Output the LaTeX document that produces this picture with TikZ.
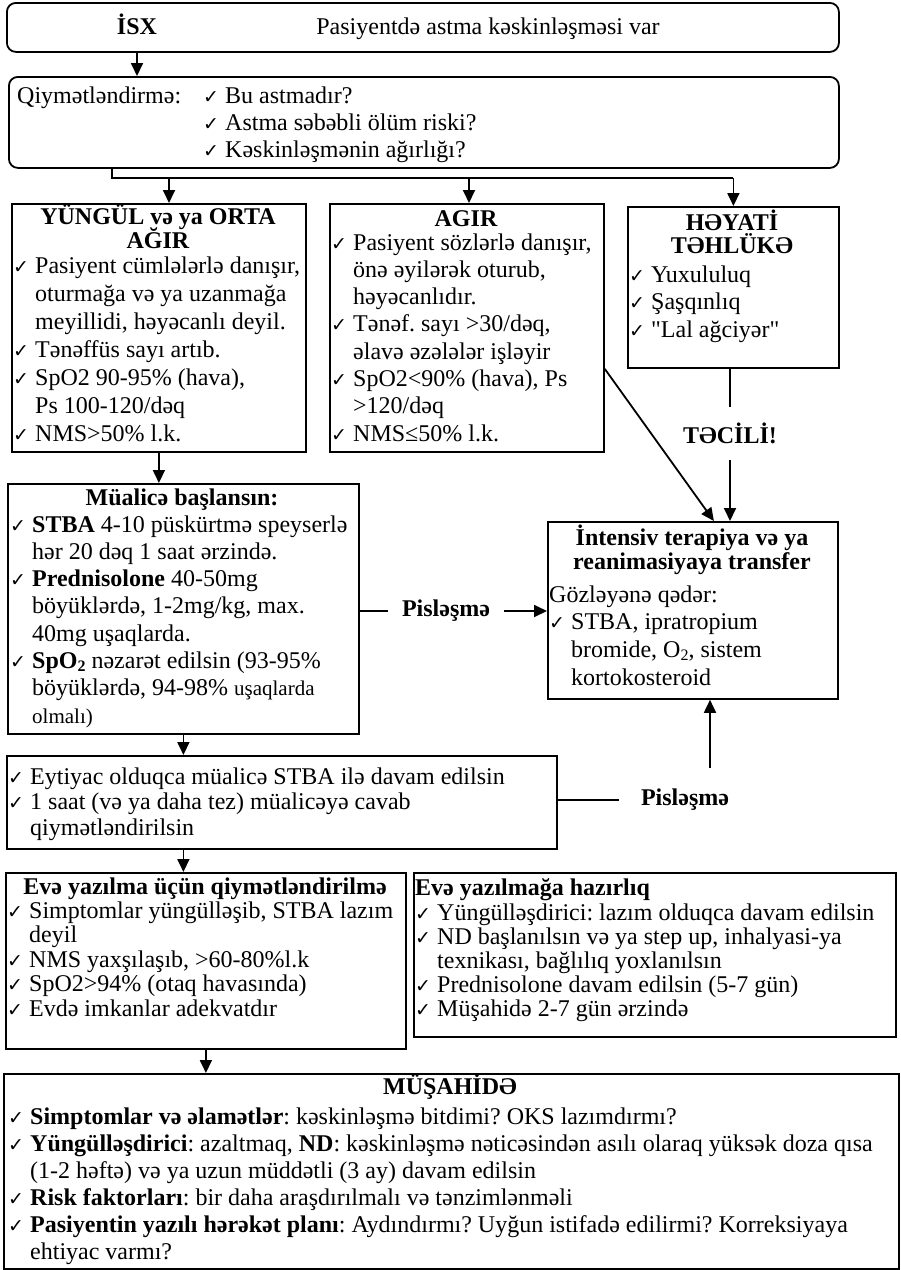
\documentclass[tikz,border=0pt]{standalone}
\usepackage{fontspec}
\setmainfont{Liberation Serif}
\newfontfamily\checkfont{DejaVu Sans}
\usetikzlibrary{arrows.meta}

\newcommand{\chk}{\makebox[22pt][l]{\checkfont\fontsize{19}{19}\selectfont ✓}}
\newcommand{\ind}{\hspace*{22pt}}
\newcommand{\bodyfont}[1]{\fontsize{24}{#1}\selectfont\frenchspacing}
\newcommand{\subtwo}{\raisebox{-3pt}{\fontsize{16}{16}\selectfont 2}}

\begin{document}
\begin{tikzpicture}[x=1pt,y=-1pt]
  \tikzstyle{frame}=[draw,line width=1.8pt,anchor=north west,inner sep=0pt]
  \tikzstyle{rframe}=[frame,rounded corners=9pt]
  \tikzstyle{head}=[inner sep=0pt,anchor=base,font=\bodyfont{27}\bfseries]
  \tikzstyle{plain}=[inner sep=0pt,anchor=base,font=\bodyfont{27}]
  \tikzstyle{list}=[inner sep=0pt,anchor=base west]
  \tikzstyle{conn}=[draw,line width=1.8pt]
  \tikzstyle{arr}=[conn,-{Triangle[length=13pt,width=12pt]}]
  \useasboundingbox (0,0) rectangle (901,1270);

  % boxes
  \node[rframe,minimum width=832pt,minimum height=49pt] (isx) at (6,2) {};
  \node[rframe,minimum width=830pt,minimum height=91pt] (assess) at (8,76) {};
  \node[frame,minimum width=294pt,minimum height=248pt] (mild) at (11,203) {};
  \node[frame,minimum width=274pt,minimum height=248pt] (severe) at (329,203) {};
  \node[frame,minimum width=211pt,minimum height=161pt] (life) at (627,206) {};
  \node[frame,minimum width=290pt,minimum height=177pt] (intensive) at (547,521) {};
  \node[frame,minimum width=351pt,minimum height=250pt] (treat) at (7,483) {};
  \node[frame,minimum width=550pt,minimum height=93pt] (cont) at (6,755) {};
  \node[frame,minimum width=400pt,minimum height=176pt] (discharge) at (5,872) {};
  \node[frame,minimum width=482pt,minimum height=164pt] (prep) at (413,872) {};
  \node[frame,minimum width=895pt,minimum height=195pt] (follow) at (3,1073) {};

  % top
  \node[head] (isxhead) at (137,34) {İSX};
  \node[plain] (isxtext) at (488,34) {Pasiyentdə astma kəskinləşməsi var};
  \node[plain,anchor=base west] (assesshead) at (17,103) {Qiymətləndirmə:};
  \node[list,font=\bodyfont{27}] (assesslist) at (203,103) {\parbox[t]{500pt}{\raggedright
    \chk Bu astmadır?\\
    \chk Astma səbəbli ölüm riski?\\
    \chk Kəskinləşmənin ağırlığı?}};

  % severity
  \node[head] (mildhead) at (158,224) {\parbox[t]{290pt}{\centering YÜNGÜL və ya ORTA\\[-3pt]AĞIR}};
  \node[list,font=\bodyfont{28}] (mildlist) at (13,273) {\parbox[t]{290pt}{\raggedright
    \chk Pasiyent cümlələrlə danışır,\\
    \ind oturmağa və ya uzanmağa\\
    \ind meyillidi, həyəcanlı deyil.\\
    \chk Tənəffüs sayı artıb.\\
    \chk SpO2 90-95\% (hava),\\
    \ind Ps 100-120/dəq\\
    \chk NMS>50\% l.k.}};

  \node[head] (severehead) at (466,226) {AGIR};
  \node[list,font=\bodyfont{27.3}] (severelist) at (331,250) {\parbox[t]{270pt}{\raggedright
    \chk Pasiyent sözlərlə danışır,\\
    \ind önə əyilərək oturub,\\
    \ind həyəcanlıdır.\\
    \chk Tənəf. sayı >30/dəq,\\
    \ind əlavə əzələlər işləyir\\
    \chk SpO2<90\% (hava), Ps\\
    \ind >120/dəq\\
    \chk NMS≤50\% l.k.}};

  \node[head] (lifehead) at (732,230) {\parbox[t]{205pt}{\centering HƏYATİ\\[-3.5pt]TƏHLÜKƏ}};
  \node[list,font=\bodyfont{27.5}] (lifelist) at (629,282) {\parbox[t]{205pt}{\raggedright
    \chk Yuxululuq\\
    \chk Şaşqınlıq\\
    \chk \textquotedbl Lal ağciyər\textquotedbl}};

  % intensive care
  \node[head] (intensivehead) at (692,545) {\parbox[t]{286pt}{\centering İntensiv terapiya və ya\\[-2.5pt]reanimasiyaya transfer}};
  \node[list,font=\bodyfont{27.7}] (intensivelist) at (549,602) {\parbox[t]{286pt}{\raggedright
    Gözləyənə qədər:\\
    \chk STBA, ipratropium\\
    \ind bromide, O\subtwo, sistem\\
    \ind kortokosteroid}};
  \node[head,anchor=center,minimum height=53pt] (urgent) at (730,433.5) {TƏCİLİ!};

  % treatment
  \node[head] (treathead) at (182,505) {Müalicə başlansın:};
  \node[list,font=\bodyfont{27.3}] (treatlist) at (10,532) {\parbox[t]{346pt}{\raggedright
    \chk \textbf{STBA} 4-10 püskürtmə speyserlə\\
    \ind hər 20 dəq 1 saat ərzində.\\
    \chk \textbf{Prednisolone} 40-50mg\\
    \ind böyüklərdə, 1-2mg/kg, max.\\
    \ind 40mg uşaqlarda.\\
    \chk \textbf{SpO\subtwo} nəzarət edilsin (93-95\%\\
    \ind böyüklərdə, 94-98\% {\fontsize{21}{21}\selectfont uşaqlarda}\\
    \ind {\fontsize{21}{21}\selectfont olmalı)}}};
  \node[head,anchor=center,inner xsep=14pt] (worse1) at (446,611) {Pisləşmə};

  \node[list,font=\bodyfont{25.5}] (contlist) at (8,784) {\parbox[t]{546pt}{\raggedright
    \chk Eytiyac olduqca müalicə STBA ilə davam edilsin\\
    \chk 1 saat (və ya daha tez) müalicəyə cavab\\
    \ind qiymətləndirilsin}};
  \node[head,anchor=center,inner xsep=22pt,minimum height=64pt] (worse2) at (685,800) {Pisləşmə};

  % discharge
  \node[head] (dischargehead) at (205,894) {Evə yazılma üçün qiymətləndirilmə};
  \node[list,font=\bodyfont{24.5}] (dischargelist) at (7,918) {\parbox[t]{396pt}{\raggedright
    \chk Simptomlar yüngülləşib, STBA lazım\\
    \ind deyil\\
    \chk NMS yaxşılaşıb, >60-80\%l.k\\
    \chk SpO2>94\% (otaq havasında)\\
    \chk Evdə imkanlar adekvatdır}};

  \node[head,anchor=base west] (prephead) at (415,895) {Evə yazılmağa hazırlıq};
  \node[list,font=\bodyfont{24.2}] (preplist) at (415,920) {\parbox[t]{478pt}{\raggedright
    \chk Yüngülləşdirici: lazım olduqca davam edilsin\\
    \chk ND başlanılsın və ya step up, inhalyasi-ya\\
    \ind texnikası, bağlılıq yoxlanılsın\\
    \chk Prednisolone davam edilsin (5-7 gün)\\
    \chk Müşahidə 2-7 gün ərzində}};

  % follow up
  \node[head] (followhead) at (450,1094) {MÜŞAHİDƏ};
  \node[list,font=\bodyfont{27}] (followlist) at (8,1124) {\parbox[t]{888pt}{\raggedright
    \chk \textbf{Simptomlar və əlamətlər}: kəskinləşmə bitdimi? OKS lazımdırmı?\\
    \chk \textbf{Yüngülləşdirici}: azaltmaq, \textbf{ND}: kəskinləşmə nəticəsindən asılı olaraq yüksək doza qısa\\
    \ind (1-2 həftə) və ya uzun müddətli (3 ay) davam edilsin\\
    \chk \textbf{Risk faktorları}: bir daha araşdırılmalı və tənzimlənməli\\
    \chk \textbf{Pasiyentin yazılı hərəkət planı}: Aydındırmı? Uyğun istifadə edilirmi? Korreksiyaya\\
    \ind ehtiyac varmı?}};

  % connectors
  \draw[arr] (isx.south -| isxhead) -- (assess.north -| isxhead);
  \coordinate (split) at (112,178);
  \coordinate (tomild) at (169,178);
  \coordinate (tosevere) at (469,178);
  \draw[conn] (assess.south -| split) -- (split) -- (split -| life.north);
  \draw[arr] (tomild) -- (tomild |- mild.north);
  \draw[arr] (tosevere) -- (tosevere |- severe.north);
  \draw[arr] (split -| life.north) -- (life.north);

  \draw[arr] ([yshift=-41pt]severe.east) -- ([xshift=21pt]intensive.north);
  \draw[conn] (urgent.north |- life.south) -- (urgent.north);
  \draw[arr] (urgent.south) -- (urgent.south |- intensive.north);

  \draw[arr] (mild) -- (mild |- treat.north);
  \draw[conn] (treat.east |- worse1) -- (worse1.west);
  \draw[arr] (worse1.east) -- (worse1 -| intensive.west);
  \draw[arr] (treat) -- (treat |- cont.north);

  \draw[conn] (cont.east |- worse2) -- (worse2.west);
  \coordinate (up) at ([xshift=25pt]worse2.north);
  \draw[arr] (up) -- (up |- intensive.south);

  \draw[arr] (cont.south -| treat) -- (discharge.north -| treat);
  \draw[arr] (discharge) -- (discharge |- follow.north);
\end{tikzpicture}
\end{document}
